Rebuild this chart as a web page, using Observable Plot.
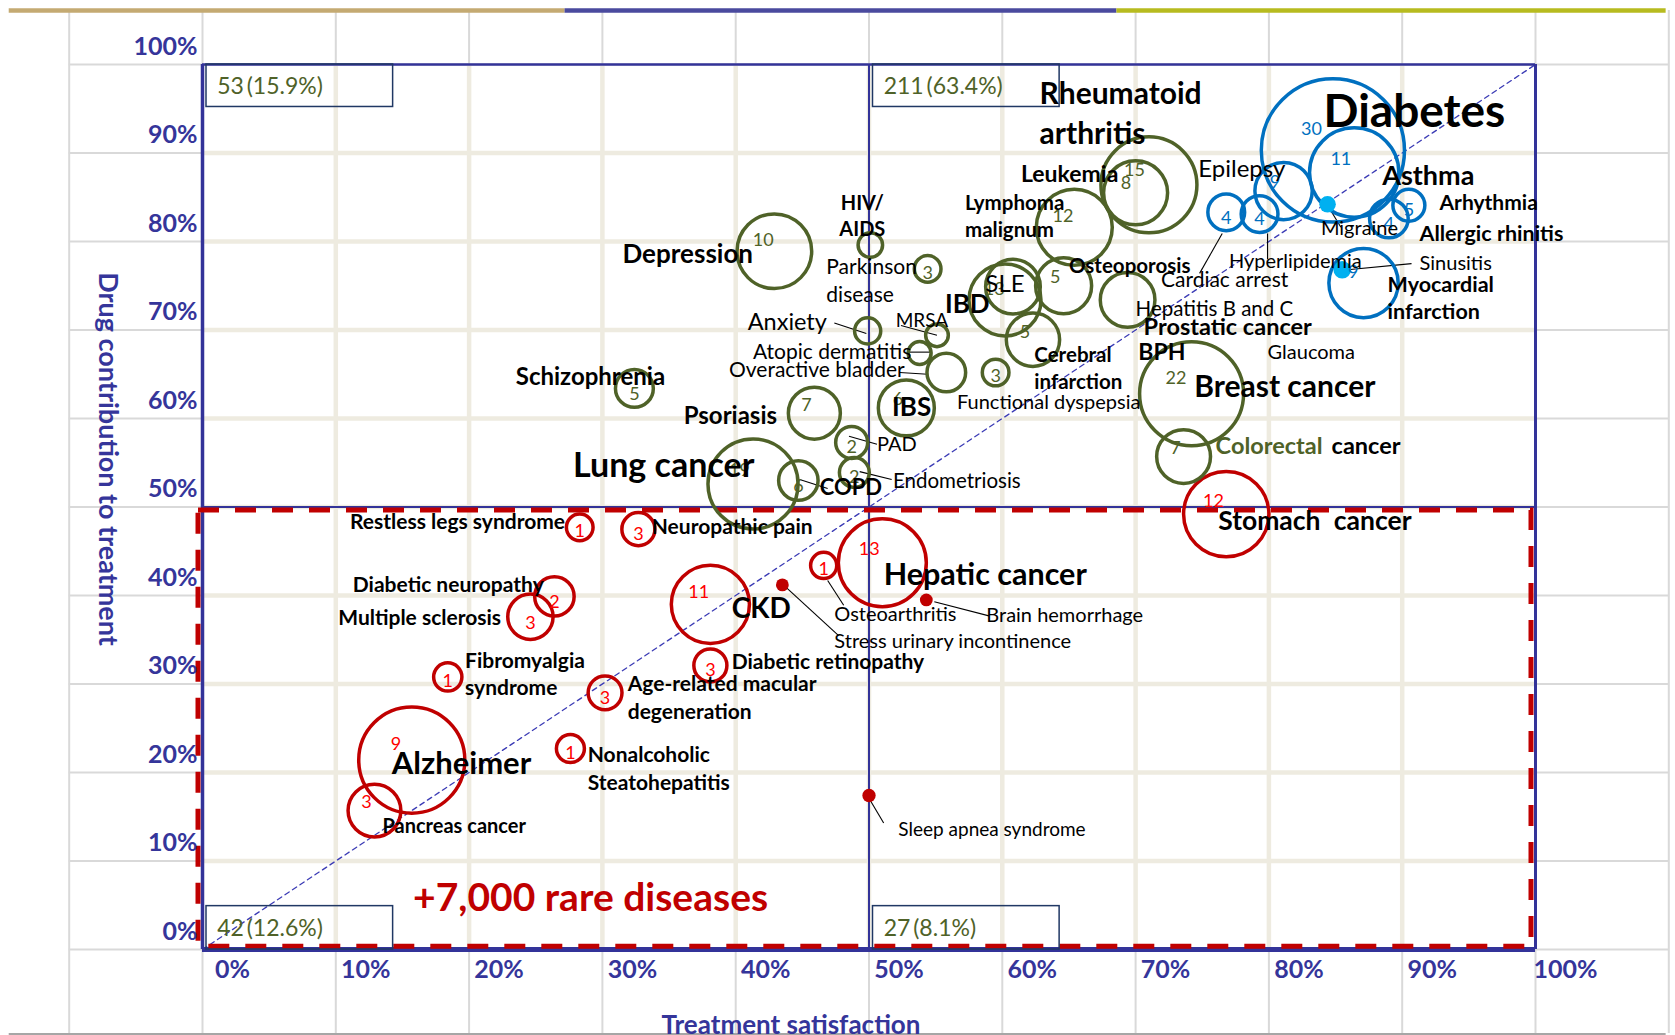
<!DOCTYPE html>
<html><head><meta charset="utf-8">
<script src="https://cdn.jsdelivr.net/npm/d3@7"></script>
<script src="https://cdn.jsdelivr.net/npm/@observablehq/plot@0.6"></script>
<style>
html,body{margin:0;padding:0;background:#fff;overflow:hidden;}
#chart{width:1675px;height:1035px;}
</style></head><body><div id="chart"></div>
<script>
// ---------------- DATA ----------------
const diseases = [
 "Schizophrenia","Depression","HIV/AIDS","Parkinson disease","Anxiety","MRSA","Atopic dermatitis","Overactive bladder",
 "IBS","Psoriasis","PAD","Endometriosis","Lung cancer","COPD","Rheumatoid arthritis","Leukemia","Lymphoma malignum",
 "IBD","SLE","Osteoporosis","Cerebral infarction","Functional dyspepsia","Hepatitis B and C","Breast cancer","Colorectal cancer",
 "Diabetes","Asthma","Epilepsy","Cardiac arrest","Hyperlipidemia","Arrhythmia","Allergic rhinitis","Myocardial infarction",
 "Migraine","Sinusitis",
 "Stomach cancer","Restless legs syndrome","Neuropathic pain","Hepatic cancer","Osteoarthritis","Diabetic neuropathy",
 "Multiple sclerosis","CKD","Diabetic retinopathy","Fibromyalgia syndrome","Age-related macular degeneration",
 "Nonalcoholic Steatohepatitis","Alzheimer","Pancreas cancer","Stress urinary incontinence","Brain hemorrhage","Sleep apnea syndrome"
];
// Treatment satisfaction (%)
const satisfaction = [
 32.4,42.9,50.1,54.4,49.9,55.1,53.8,55.8,
 52.8,45.9,48.7,48.9,41.3,44.7,71.0,70.0,65.4,
 60.2,60.8,64.6,62.3,59.5,69.4,74.2,73.6,
 84.8,86.4,81.1,76.8,79.3,90.5,89.0,87.1,
 84.4,85.5,
 76.8,28.3,32.7,51.0,46.6,26.4,
 24.6,38.1,38.1,18.4,30.2,
 27.6,15.7,12.9,43.5,54.3,50.0
];
// Drug contribution to treatment (%)
const contribution = [
 63.4,78.9,79.6,76.9,69.9,69.4,67.4,65.2,
 61.2,60.6,57.3,53.9,52.6,53.0,86.4,85.5,81.6,
 73.4,74.9,75.0,68.9,65.2,73.4,62.8,55.7,
 90.3,87.8,85.7,83.3,83.1,84.1,82.6,75.3,
 84.2,76.8,
 49.2,47.7,47.5,43.7,43.4,39.9,
 37.6,39.0,32.1,30.8,29.0,
 22.7,21.4,15.7,41.2,39.5,17.4
];
// Number shown inside each bubble (null = none shown)
const counts = [
 5,10,null,3,null,null,null,null,
 6,7,2,2,19,6,15,8,12,
 13,null,5,5,3,null,22,7,
 30,11,9,4,4,5,4,9,
 null,null,
 12,1,3,13,1,2,
 3,11,3,1,3,
 1,9,3,null,null,null
];
// Bubble size (radius, in % of the satisfaction axis)
const bubbleSize = [
 1.42,2.8,0.92,1.0,0.98,0.85,0.86,1.45,
 2.1,1.95,1.2,1.12,3.38,1.48,3.6,2.4,2.85,
 2.7,2.05,2.1,2.0,1.0,2.05,3.9,2.02,
 5.37,3.35,2.15,1.38,1.38,1.2,1.45,2.6,
 0.62,0.66,
 3.2,1.0,1.24,3.3,0.98,1.48,
 1.7,2.93,1.24,1.06,1.27,
 1.05,3.98,1.98,0.48,0.48,0.5
];
const segment = [
 ...Array(25).fill("green"),
 ...Array(10).fill("blue"),
 ...Array(17).fill("red")
];
const pointDiseases = ["Migraine","Sinusitis","Stress urinary incontinence","Brain hemorrhage","Sleep apnea syndrome"];

const quadrantCounts = [53, 211, 42, 27];
const quadrantShares = [15.9, 63.4, 12.6, 8.1];
const quadrantLeft = [0, 50, 0, 50];
const quadrantEdge = [100, 100, 0, 0];

const axisTicks = d3.range(0, 101, 10);

// ---------------- LAYOUT (annotations) ----------------
// [text, x, y, anchor, size, bold, colour]
const labelLayout = [
 ["Schizophrenia",23.5,64.7,"start",24,1],
 ["Depression",41.3,78.5,"end",26,1],
 ["HIV/",49.5,84.3,"middle",20,1],
 ["AIDS",49.5,81.3,"middle",20,1],
 ["IBS",53.2,61.2,"middle",26,1],
 ["Psoriasis",36.1,60.3,"start",24,1],
 ["Lung cancer",27.8,54.6,"start",34,1],
 ["COPD",46.3,52.1,"start",22,1],
 ["Rheumatoid",62.8,96.6,"start",30,1],
 ["arthritis",62.8,92.1,"start",30,1],
 ["Leukemia",61.4,87.6,"start",23,1],
 ["Lymphoma",57.2,84.3,"start",20.5,1],
 ["malignum",57.2,81.2,"start",20.5,1],
 ["IBD",55.7,72.9,"start",26,1],
 ["Osteoporosis",65.0,77.2,"start",20.5,1],
 ["Cerebral",62.4,67.1,"start",20.5,1],
 ["infarction",62.4,64.1,"start",20.5,1],
 ["Prostatic cancer",70.6,70.3,"start",23.5,1],
 ["BPH",70.2,67.5,"start",23,1],
 ["Breast cancer",74.4,63.5,"start",30,1],
 ["Colorectal",76.0,56.8,"start",23.5,1,"#4f6228"],
 ["cancer",84.7,56.8,"start",23.5,1],
 ["Diabetes",84.1,94.6,"start",46,1],
 ["Asthma",88.5,87.4,"start",27,1],
 ["Arhythmia",92.8,84.3,"start",21,1],
 ["Allergic rhinitis",91.3,80.8,"start",21.5,1],
 ["Myocardial",88.9,75.1,"start",21.5,1],
 ["infarction",88.9,72.0,"start",21.5,1],
 ["Stomach\u2002cancer",76.2,48.4,"start",26.5,1],
 ["Restless legs syndrome",27.2,48.3,"end",21,1],
 ["Neuropathic pain",33.7,47.7,"start",21,1],
 ["Hepatic cancer",51.1,42.3,"start",30.5,1],
 ["Diabetic neuropathy",25.6,41.2,"end",21,1],
 ["Multiple sclerosis",22.4,37.4,"end",21,1],
 ["CKD",39.7,38.5,"start",28,1],
 ["Diabetic retinopathy",39.7,32.5,"start",21,1],
 ["Fibromyalgia",19.7,32.6,"start",21,1],
 ["syndrome",19.7,29.5,"start",21,1],
 ["Age-related macular",31.9,30.0,"start",21,1],
 ["degeneration",31.9,26.8,"start",21,1],
 ["Nonalcoholic",28.9,22.0,"start",21,1],
 ["Steatohepatitis",28.9,18.8,"start",21,1],
 ["Alzheimer",14.2,20.9,"start",31,1],
 ["Pancreas cancer",13.5,13.9,"start",20,1],
 ["+7,000 rare diseases",15.8,5.8,"start",39,1,"#c00000"],
 ["Parkinson",46.8,77.1,"start",21,0],
 ["disease",46.8,73.9,"start",21,0],
 ["Anxiety",40.9,70.8,"start",23.5,0],
 ["MRSA",52.0,71.0,"start",19,0],
 ["Atopic dermatitis",41.3,67.5,"start",21,0],
 ["Overactive bladder",39.5,65.5,"start",21,0],
 ["PAD",50.6,57.0,"start",20,0],
 ["Endometriosis",51.8,52.9,"start",20.5,0],
 ["SLE",60.2,75.2,"middle",24,0],
 ["Functional dyspepsia",56.6,61.8,"start",20,0],
 ["Hepatitis B and C",70.0,72.3,"start",20.5,0],
 ["Cardiac arrest",71.9,75.6,"start",21,0],
 ["Glaucoma",79.9,67.4,"start",20,0],
 ["Epilepsy",74.7,88.2,"start",24,0],
 ["Hyperlipidemia",77.0,77.7,"start",20,0],
 ["Migraine",83.9,81.5,"start",20,0],
 ["Sinusitis",91.3,77.5,"start",20,0],
 ["Osteoarthritis",47.4,37.8,"start",20,0],
 ["Stress urinary incontinence",47.4,34.8,"start",20,0],
 ["Brain hemorrhage",58.8,37.7,"start",20,0],
 ["Sleep apnea syndrome",52.2,13.5,"start",19,0]
];
// leader lines [x1,y1,x2,y2]
const leaders = [
 [47.4,70.8,49.8,69.6],[52.4,70.5,55.1,69.4],[52.9,67.5,54.6,67.5],[52.3,65.2,54.4,65.0],
 [48.5,58.0,50.6,57.1],[49.3,54.0,51.7,53.1],[44.8,53.1,46.9,52.1],
 [76.5,80.9,74.8,76.4],[79.9,80.9,79.9,78.0],[84.4,84.1,85.4,81.6],[85.9,76.8,90.7,77.5],
 [46.9,41.7,48.1,38.9],[43.8,40.9,47.7,35.5],[54.9,39.3,59.0,37.7],[50.0,17.1,51.1,14.3]
];

// ---------------- BUILD ----------------
const W = 1675, H = 1035, ML = 202, MR = 140, MT = 64, MB = 86;
const pxX = (W - ML - MR) / 100, pxY = (H - MT - MB) / 100;
const strokeOf = {green:"#4f6228", blue:"#0070c0", red:"#c00000"};
const pointFill = {blue:"#00b0f0", red:"#c00000"};
const numberFill = {green:"#4f6228", blue:"#0070c0", red:"#ff0000"};
const axisColor = "#35359a";

const rows = diseases.map((d,i)=>({name:d, x:satisfaction[i], y:contribution[i], n:counts[i],
  size:bubbleSize[i], seg:segment[i], point:pointDiseases.includes(d)}));
const bubbles = rows.filter(r=>!r.point);
const points = rows.filter(r=>r.point);
const numbers = rows.filter(r=>r.n!=null).map(r=>{
  const rpx = r.size*pxX, big = r.size>=1.8;
  const dxp = big ? -0.3*rpx : 0, dyp = big ? -0.3*rpx : 0.3*rpx;
  return {...r, nx:r.x+dxp/pxX, ny:r.y-dyp/pxY};
});
const quads = quadrantCounts.map((c,i)=>({label:`${c}\u2009(${quadrantShares[i]}%)`, left:quadrantLeft[i], edge:quadrantEdge[i]}));
const labels = labelLayout.map(([text,x,y,anchor,size,bold,color])=>({text,x,y,anchor,size,bold,color:color||"#000"}));

const labelMarks = [];
for (const anchor of ["start","middle","end"]) for (const bold of [0,1]) {
  const sub = labels.filter(l=>l.anchor===anchor && l.bold===bold);
  if (sub.length) labelMarks.push(Plot.text(sub, {x:"x", y:"y", text:"text", textAnchor:anchor,
    fontSize:d=>d.size, fontWeight: bold? "bold":"normal", fill:d=>d.color}));
}

const chart = Plot.plot({
  width: W, height: H, marginLeft: ML, marginRight: MR, marginTop: MT, marginBottom: MB,
  x: {domain:[0,100], axis:null}, y: {domain:[0,100], axis:null},
  r: {type:"linear", domain:[0,10], range:[0,10*pxX]},
  color: {type:"identity"},
  style: {fontFamily:"Lato, 'Open Sans', sans-serif", background:"#fff", overflow:"visible"},
  marks: [
    // sheet grid outside the plot box
    Plot.ruleX(d3.range(-10,111,10), {y1:-9.5, y2:106.1, stroke:"#d9d9d9", strokeWidth:2}),
    Plot.ruleY(axisTicks, {x1:-10, x2:110, stroke:"#d9d9d9", strokeWidth:2}),
    // plot grid
    Plot.ruleX(d3.range(10,100,10), {y1:0, y2:100, stroke:"#eeebe0", strokeWidth:4.5}),
    Plot.ruleY(d3.range(10,100,10), {x1:0, x2:100, stroke:"#eeebe0", strokeWidth:4.5}),
    // top coloured band and bottom line
    Plot.ruleY([{a:-14.5,b:27.2,c:"#c4aa72"},{a:27.2,b:68.6,c:"#4a4a9e"},{a:68.6,b:109.8,c:"#b7bb1f"}],
      {y:()=>106.1, x1:"a", x2:"b", stroke:"c", strokeWidth:4.5}),
    Plot.ruleY([-9.6], {x1:-14.5, x2:109.8, stroke:"#a6a6a6", strokeWidth:3}),
    // diagonal
    Plot.line([0,100], {x:d=>d, y:d=>d, stroke:"#3b3bb5", strokeWidth:1.3, strokeDasharray:"5,4"}),
    // quadrant frame
    Plot.ruleX([0], {y1:0, y2:100, stroke:"#333399", strokeWidth:3.5}),
    Plot.ruleX([100], {y1:0, y2:100, stroke:"#333399", strokeWidth:3}),
    Plot.ruleY([100], {x1:0, x2:100, stroke:"#333399", strokeWidth:2.5}),
    Plot.ruleY([0], {x1:0, x2:100, stroke:"#333399", strokeWidth:5}),
    Plot.ruleX([50], {y1:0, y2:100, stroke:"#333399", strokeWidth:2}),
    Plot.ruleY([50], {x1:0, x2:100, stroke:"#333399", strokeWidth:2}),
    // rare diseases zone
    Plot.rect([{x1:-0.3,x2:99.7,y1:0.3,y2:49.6}], {x1:"x1",x2:"x2",y1:"y1",y2:"y2", fill:"none",
      stroke:"#c00000", strokeWidth:5, strokeDasharray:"21,16"}),
    // quadrant count boxes
    Plot.rect(quads, {x1:d=>d.left+0.3, x2:d=>d.left+14.3,
      y1:d=>d.edge===100? 100:0, y2:d=>d.edge===100? 95.2:4.9, fill:"none", stroke:"#203864", strokeWidth:1.5}),
    Plot.text(quads, {x:d=>d.left+1.1, y:d=>d.edge===100? 97.5:2.4, text:"label", textAnchor:"start",
      fontSize:23, fill:"#4f6228"}),
    // leader lines
    Plot.link(leaders, {x1:d=>d[0], y1:d=>d[1], x2:d=>d[2], y2:d=>d[3], stroke:"#000", strokeWidth:1.1}),
    // bubbles
    Plot.dot(bubbles, {x:"x", y:"y", r:"size", stroke:d=>strokeOf[d.seg], fill:"none", strokeWidth:3.5}),
    Plot.dot(points, {x:"x", y:"y", r:"size", fill:d=>pointFill[d.seg], stroke:"none"}),
    Plot.text(numbers, {x:"nx", y:"ny", text:d=>String(d.n), fontSize:18, fill:d=>numberFill[d.seg]}),
    ...labelMarks,
    // axes
    Plot.axisY(axisTicks, {tickSize:0, tickPadding:5, dy:-18, tickFormat:d=>d+"%", fontSize:25,
      fontWeight:"bold", color:axisColor, label:null}),
    Plot.axisX(axisTicks, {tickSize:0, tickPadding:11, dx:30, tickFormat:d=>d+"%", fontSize:25,
      fontWeight:"bold", color:axisColor, label:null}),
    Plot.text(["Treatment satisfaction"], {frameAnchor:"bottom", dx:-78, dy:84, fontSize:26,
      fontWeight:"bold", fill:axisColor}),
    Plot.text(["Drug contribution to treatment"], {frameAnchor:"left", textAnchor:"middle", dx:-95, dy:-48,
      rotate:90, fontSize:27, fontWeight:"bold", fill:axisColor})
  ]
});
document.getElementById("chart").appendChild(chart);
</script></body></html>
